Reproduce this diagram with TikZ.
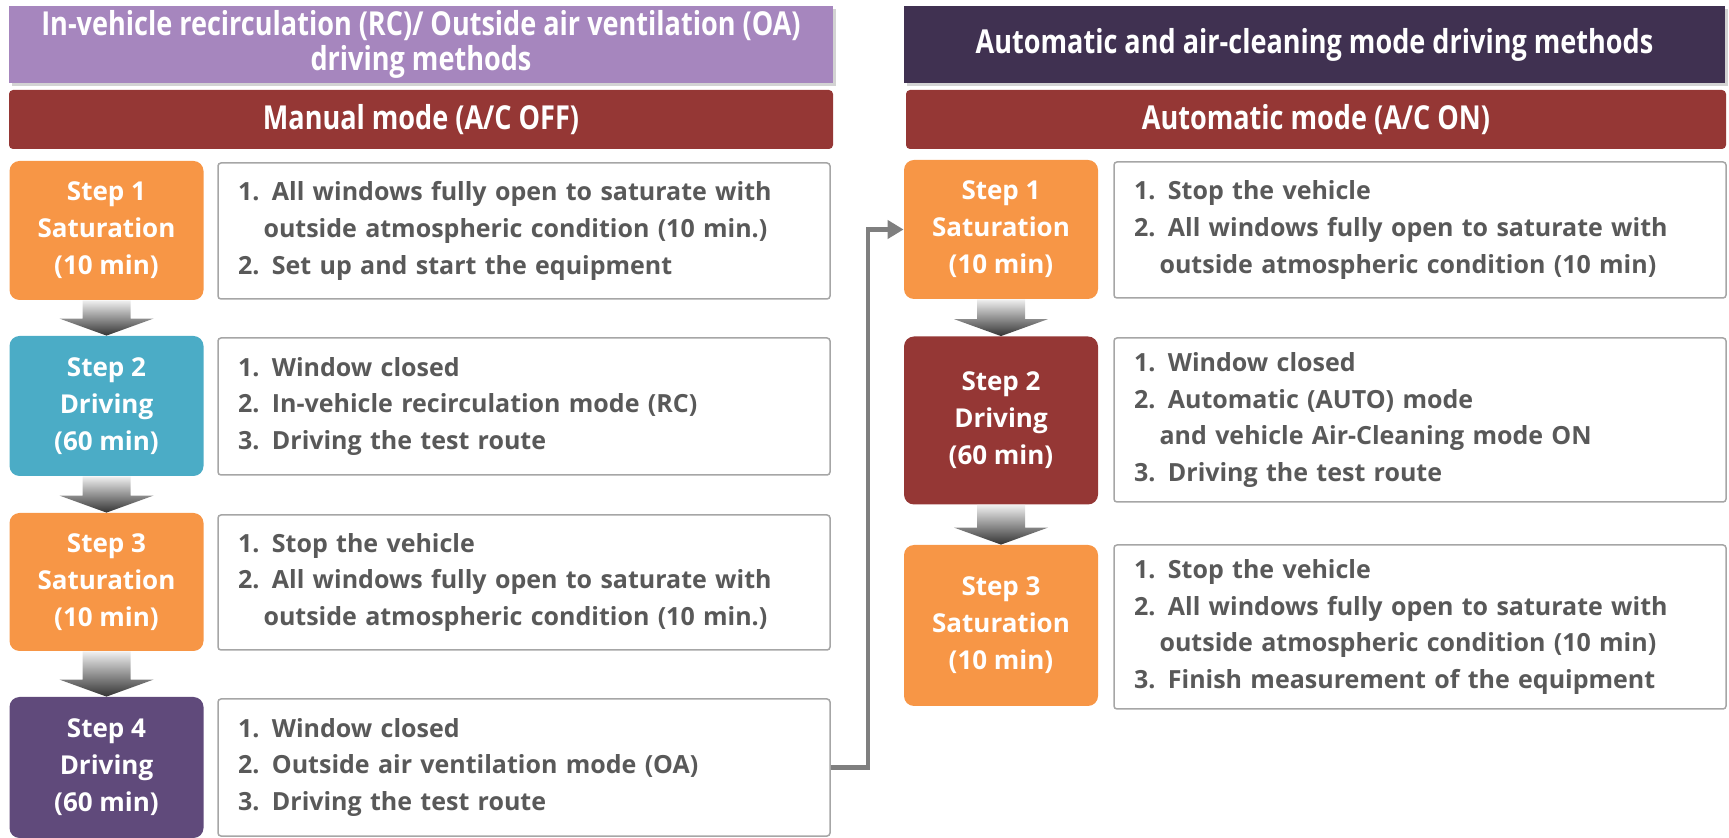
\documentclass[tikz,border=0pt]{standalone}
\usepackage{fontspec}
\setmainfont{Open Sans}
\newfontfamily\headfont[FakeStretch=0.82]{Open Sans}
\usetikzlibrary{calc,arrows.meta,shadows}

\definecolor{lilac}{HTML}{A686BE}
\definecolor{plum}{HTML}{403151}
\definecolor{brick}{HTML}{953735}
\definecolor{tangerine}{HTML}{F79646}
\definecolor{teal}{HTML}{4BACC6}
\definecolor{grape}{HTML}{604A7B}
\definecolor{inkgray}{HTML}{595959}
\definecolor{rimgray}{HTML}{A6A6A6}
\definecolor{wiregray}{HTML}{7F7F7F}

\newcommand\ind{\phantom{2.\,}}
% block arrow between two step boxes
\newcommand\steparrow[2]{%
  \shade[top color=gray!12, bottom color=black!80]
    ($(#1.south)+(-12pt,0)$) -- ($(#2.north)+(-12pt,8.5pt)$)
    -- ($(#2.north)+(-23.5pt,8.5pt)$) -- (#2.north)
    -- ($(#2.north)+(23.5pt,8.5pt)$) -- ($(#2.north)+(12pt,8.5pt)$)
    -- ($(#1.south)+(12pt,0)$) -- cycle;}

\begin{document}
\begin{tikzpicture}[x=0.5pt,y=-0.5pt,
  headbox/.style={minimum height=38.5pt,inner sep=0pt,text=white,align=center,
    font=\headfont\bfseries\fontsize{16.5}{17.5}\selectfont,
    drop shadow={shadow xshift=1.5pt,shadow yshift=-1.5pt,opacity=0.35}},
  modebar/.style={fill=brick,rounded corners=2pt,minimum height=29.5pt,inner sep=0pt,
    text=white,font=\headfont\bfseries\fontsize{16.5}{17.5}\selectfont},
  stepbox/.style={rounded corners=5pt,minimum width=97pt,inner sep=0pt,text=white,
    align=center,font=\bfseries\fontsize{13}{18.5}\selectfont},
  notebox/.style={draw=rimgray,line width=0.75pt,rounded corners=1.5pt,fill=white,
    text width=286pt,inner xsep=10pt,inner ysep=0pt,align=left,text=inkgray,
    font=\bfseries\fontsize{12.5}{18.3}\selectfont},
  conn/.style={draw=wiregray,line width=2.25pt,-{Triangle[length=8pt,width=9pt]}}]
\useasboundingbox (0,0) rectangle (1729,838);

% headers
\node[headbox,fill=lilac,minimum width=412pt] (lhead) at (421,44.5)
  {In-vehicle recirculation (RC)/ Outside air ventilation (OA)\\driving methods};
\node[headbox,fill=plum,minimum width=410.5pt] (rhead) at (1314.5,44.5)
  {Automatic and air-cleaning mode driving methods};
\node[modebar,minimum width=412pt] (lmode) at (421,119.5) {Manual mode (A/C OFF)};
\node[modebar,minimum width=410pt] (rmode) at (1316,119.5) {Automatic mode (A/C ON)};

% manual mode steps
\node[stepbox,fill=tangerine,minimum height=69.5pt] (s1) at (106.5,230.5) {Step 1\\Saturation\\(10 min)};
\node[stepbox,fill=teal,minimum height=70pt] (s2) at (106.5,406) {Step 2\\Driving\\(60 min)};
\node[stepbox,fill=tangerine,minimum height=69pt] (s3) at (106.5,582) {Step 3\\Saturation\\(10 min)};
\node[stepbox,fill=grape,minimum height=70.5pt] (s4) at (106.5,767.5) {Step 4\\Driving\\(60 min)};

\node[notebox,minimum height=68pt] (t1) at (524,231)
  {1. All windows fully open to saturate with\\\ind outside atmospheric condition (10 min.)\\2. Set up and start the equipment};
\node[notebox,minimum height=68.5pt] (t2) at (524,406.5)
  {1. Window closed\\2. In-vehicle recirculation mode (RC)\\3. Driving the test route};
\node[notebox,minimum height=67.5pt] (t3) at (524,582.5)
  {1. Stop the vehicle\\2. All windows fully open to saturate with\\\ind outside atmospheric condition (10 min.)};
\node[notebox,minimum height=68.5pt] (t4) at (524,767.5)
  {1. Window closed\\2. Outside air ventilation mode (OA)\\3. Driving the test route};

% automatic mode steps
\node[stepbox,fill=tangerine,minimum height=69.5pt] (r1) at (1001,229.5) {Step 1\\Saturation\\(10 min)};
\node[stepbox,fill=brick,minimum height=84pt] (r2) at (1001,420.5) {Step 2\\Driving\\(60 min)};
\node[stepbox,fill=tangerine,minimum height=80.5pt] (r3) at (1001,625.5) {Step 3\\Saturation\\(10 min)};

\node[notebox,minimum height=68pt] (q1) at (1420,230)
  {1. Stop the vehicle\\2. All windows fully open to saturate with\\\ind outside atmospheric condition (10 min)};
\node[notebox,minimum height=82pt] (q2) at (1420,420)
  {1. Window closed\\2. Automatic (AUTO) mode\\\ind and vehicle Air-Cleaning mode ON\\3. Driving the test route};
\node[notebox,minimum height=82pt] (q3) at (1420,627)
  {1. Stop the vehicle\\2. All windows fully open to saturate with\\\ind outside atmospheric condition (10 min)\\3. Finish measurement of the equipment};

\steparrow{s1}{s2}\steparrow{s2}{s3}\steparrow{s3}{s4}
\steparrow{r1}{r2}\steparrow{r2}{r3}

\coordinate (bend) at (868,0);
\draw[conn] (t4.east) -| (bend |- r1.west) -- (r1.west);
\end{tikzpicture}
\end{document}
